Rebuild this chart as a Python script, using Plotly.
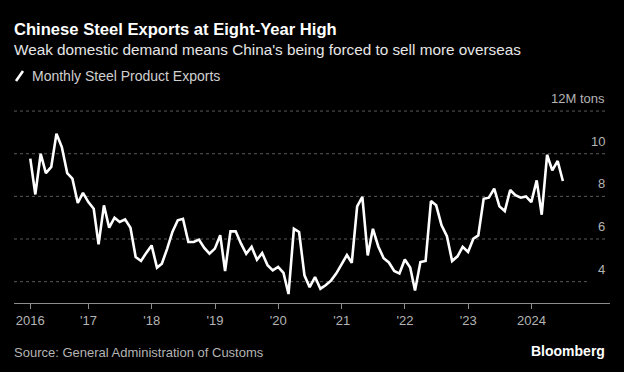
import pandas as pd
import plotly.graph_objects as go

# ---- data ----
months = pd.date_range("2016-01-31", periods=102, freq="ME")
exports_mt = [
    9.77, 8.09, 10.0, 9.09, 9.38, 10.94, 10.31, 9.09, 8.83, 7.69, 8.16, 7.73,   # 2016
    7.42, 5.75, 7.58, 6.53, 7.00, 6.80, 6.92, 6.53, 5.16, 4.97, 5.35, 5.70,     # 2017
    4.66, 4.84, 5.55, 6.33, 6.88, 6.95, 5.86, 5.86, 5.97, 5.58, 5.31, 5.55,     # 2018
    6.18, 4.50, 6.36, 6.36, 5.78, 5.31, 5.63, 5.03, 5.34, 4.77, 4.53, 4.69,     # 2019
    4.41, 3.42, 6.48, 6.33, 4.30, 3.74, 4.22, 3.67, 3.83, 4.05, 4.38, 4.84,     # 2020
    5.25, 4.88, 7.53, 7.98, 5.23, 6.48, 5.65, 5.10, 4.90, 4.50, 4.38, 5.04,     # 2021
    4.66, 3.59, 4.92, 4.97, 7.78, 7.58, 6.64, 6.13, 4.97, 5.19, 5.63, 5.39,     # 2022
    6.02, 6.17, 7.89, 7.94, 8.36, 7.53, 7.31, 8.30, 8.06, 7.94, 8.00, 7.73,     # 2023
    8.75, 7.14, 9.95, 9.22, 9.66, 8.72,                                         # 2024
]
x_tick_vals = ["2016-01-31", "2017-01-01", "2018-01-01", "2019-01-01", "2020-01-01",
               "2021-01-01", "2022-01-01", "2023-01-01", "2024-01-01"]
x_tick_text = ["2016", "'17", "'18", "'19", "'20", "'21", "'22", "'23", "2024"]
y_tick_vals = [4, 6, 8, 10, 12]
y_tick_text = ["4", "6", "8", "10", "12M tons"]
series_name = "Monthly Steel Product Exports"

# ---- layout geometry (pixels) ----
W, H = 624, 372
L, R, T, B = 14, 14, 110, 69
PW, PH = W - L - R, H - T - B


def px(xpix):
    return (xpix - L) / PW


def py(ypix):
    return (H - B - ypix) / PH


FONT = "Liberation Sans"
fig = go.Figure()
fig.add_trace(go.Scatter(
    x=months, y=exports_mt, mode="lines", name=series_name,
    line=dict(color="#ffffff", width=2.6), showlegend=False,
    hovertemplate="%{x|%b %Y}: %{y:.2f}M tons<extra></extra>",
))

annotations = []
shapes = []
for v, t in zip(y_tick_vals, y_tick_text):
    annotations.append(dict(
        x=px(607), xref="paper", y=v, yref="y", text=t, showarrow=False,
        xanchor="right", yanchor="bottom", yshift=3,
        font=dict(family=FONT, size=13, color="#b4b4b4"),
    ))
    # dotted horizontal gridline for each tick (the lowest one stops short)
    shapes.append(dict(
        type="line", xref="paper", yref="y", x0=0, x1=px(587) if v == min(y_tick_vals) else px(607),
        y0=v, y1=v, line=dict(color="#5a5a5a", width=1, dash="dot"), layer="below",
    ))

annotations += [
    dict(x=px(12), y=py(49), xref="paper", yref="paper", xanchor="left", yanchor="middle",
         text="Weak domestic demand means China's being forced to sell more overseas",
         showarrow=False, font=dict(family=FONT, size=15.3, color="#e6e6e6")),
    dict(x=px(30), y=py(76), xref="paper", yref="paper", xanchor="left", yanchor="middle",
         text=series_name, showarrow=False, font=dict(family=FONT, size=14, color="#d0d0d0")),
    dict(x=px(12), y=py(352), xref="paper", yref="paper", xanchor="left", yanchor="middle",
         text="Source: General Administration of Customs", showarrow=False,
         font=dict(family=FONT, size=13, color="#b4b4b4")),
    dict(x=px(607), y=py(351), xref="paper", yref="paper", xanchor="right", yanchor="middle",
         text="<b>Bloomberg</b>", showarrow=False,
         font=dict(family=FONT, size=14, color="#ffffff")),
]

shapes.append(dict(type="line", xref="paper", yref="paper", x0=px(16), y0=py(81), x1=px(23), y1=py(71),
                   line=dict(color="#ffffff", width=2.6)))

fig.update_layout(
    width=W, height=H,
    margin=dict(l=L, r=R, t=T, b=B, pad=0),
    paper_bgcolor="#000000", plot_bgcolor="#000000",
    title=dict(text="<b>Chinese Steel Exports at Eight-Year High</b>",
               x=L / W, xanchor="left", xref="container",
               y=1 - 29 / H, yanchor="middle", yref="container",
               font=dict(family=FONT, size=16.6, color="#ffffff")),
    annotations=annotations, shapes=shapes,
    xaxis=dict(
        type="date", range=["2015-10-29", "2025-03-29"],
        tickvals=x_tick_vals, ticktext=x_tick_text,
        showgrid=False, zeroline=False,
        showline=True, linecolor="#8c8c8c", linewidth=1,
        ticks="outside", ticklen=5, tickcolor="#8c8c8c", tickwidth=1,
        tickfont=dict(family=FONT, size=13, color="#b4b4b4"),
        fixedrange=True,
    ),
    yaxis=dict(
        range=[3, 12.05], tickvals=y_tick_vals, showticklabels=False,
        showgrid=False, zeroline=False, showline=False, ticks="", fixedrange=True,
    ),
    showlegend=False,
)

fig.write_html(
    "out.html",
    config={"displayModeBar": False},
    post_script="document.body.style.margin='0';document.body.style.background='#000';",
)
